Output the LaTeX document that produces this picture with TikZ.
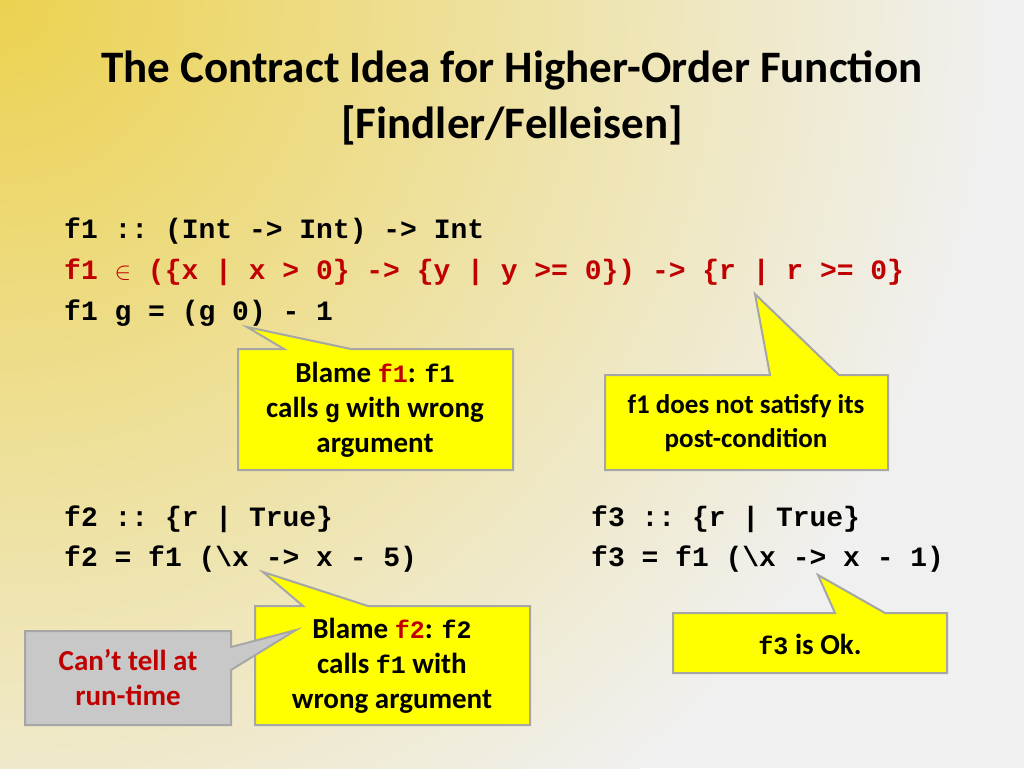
\documentclass[tikz,border=0pt]{standalone}
\usepackage{fontspec}
\setmainfont{Carlito}
\setmonofont{Liberation Mono}
\definecolor{codered}{RGB}{192,0,0}
\definecolor{callyellow}{RGB}{255,255,0}
\definecolor{callgrey}{RGB}{200,200,200}
\definecolor{bgyellow}{RGB}{236,210,80}
\definecolor{bggrey}{RGB}{240,240,240}
\tikzstyle{code} = [anchor=base west, inner sep=0pt, font=\ttfamily\bfseries\fontsize{28}{30}\selectfont]
\tikzstyle{callout} = [draw=black!35, line width=2pt, line join=miter]
\tikzstyle{calltext} = [align=center, font=\bfseries\fontsize{29}{35}\selectfont]
\newcommand{\ctt}[1]{{\ttfamily\bfseries\fontsize{25}{30}\selectfont #1}}

\begin{document}
\begin{tikzpicture}[x=1pt, y=-1pt]
        % Background
        \useasboundingbox (0,0) rectangle (1024,768);
        \fill[bggrey] (0,0) rectangle (1024,768);
        \begin{scope}
          \clip (0,0) rectangle (1024,768);
          \shade[inner color=bgyellow, outer color=bggrey] (0,0) circle (1000);
        \end{scope}
        
        % Title
        \node[font=\bfseries\fontsize{45}{56}\selectfont, align=center] (title) at (512,98)
          {The Contract Idea for Higher-Order Function\\ {[}Findler/Felleisen{]}};
        
        % Code
        \node[code] (l1) at (64,238) {f1 :: (Int -> Int) -> Int};
        \node[code, text=codered] (l2) at (64,279) {f1 $\in$ (\{x | x > 0\} -> \{y | y >= 0\}) -> \{r | r >= 0\}};
        \node[code] (l3) at (64,320) {f1 g = (g 0) - 1};
        \node[code] (l4) at (64,526) {f2 :: \{r | True\}};
        \node[code] (l5) at (64,566) {f2 = f1 (\textbackslash x -> x - 5)};
        \node[code] (l6) at (591,526) {f3 :: \{r | True\}};
        \node[code] (l7) at (591,566) {f3 = f1 (\textbackslash x -> x - 1)};
        
        % Callouts
        \filldraw[callout, fill=callyellow] (238,349) -- (284,349) -- (247,327) -- (351,349) -- (513,349)
          -- (513,470) -- (238,470) -- cycle;
        \node[calltext] (blame1) at (375,410) {Blame \textcolor{codered}{\ctt{f1}}: \ctt{f1}\\ calls \ctt{g} with wrong\\ argument};
        
        \filldraw[callout, fill=callyellow] (605,375) -- (770,375) -- (755,294) -- (839,375) -- (888,375)
          -- (888,470) -- (605,470) -- cycle;
        \node[align=center, font=\bfseries\fontsize{27}{34}\selectfont] (post) at (746,423) {f1 does not satisfy its\\ post-condition};
        
        \filldraw[callout, fill=callyellow] (255,606) -- (303,606) -- (263,572) -- (368,606) -- (530,606)
          -- (530,725) -- (255,725) -- cycle;
        \node[calltext] (blame2) at (392,666) {Blame \textcolor{codered}{\ctt{f2}}: \ctt{f2}\\ calls \ctt{f1} with\\ wrong argument};
        
        \filldraw[callout, fill=callyellow] (673,613) -- (835,613) -- (818,575) -- (885,613) -- (947,613)
          -- (947,673) -- (673,673) -- cycle;
        \node[calltext] (ok) at (810,644) {\ctt{f3} is Ok.};
        
        \filldraw[callout, fill=callgrey] (25,631) -- (231,631) -- (231,647) -- (296,630) -- (231,670)
          -- (231,725) -- (25,725) -- cycle;
        \node[calltext, text=codered] (tell) at (128,678) {Can't tell at\\ run-time};
\end{tikzpicture}
\end{document}
